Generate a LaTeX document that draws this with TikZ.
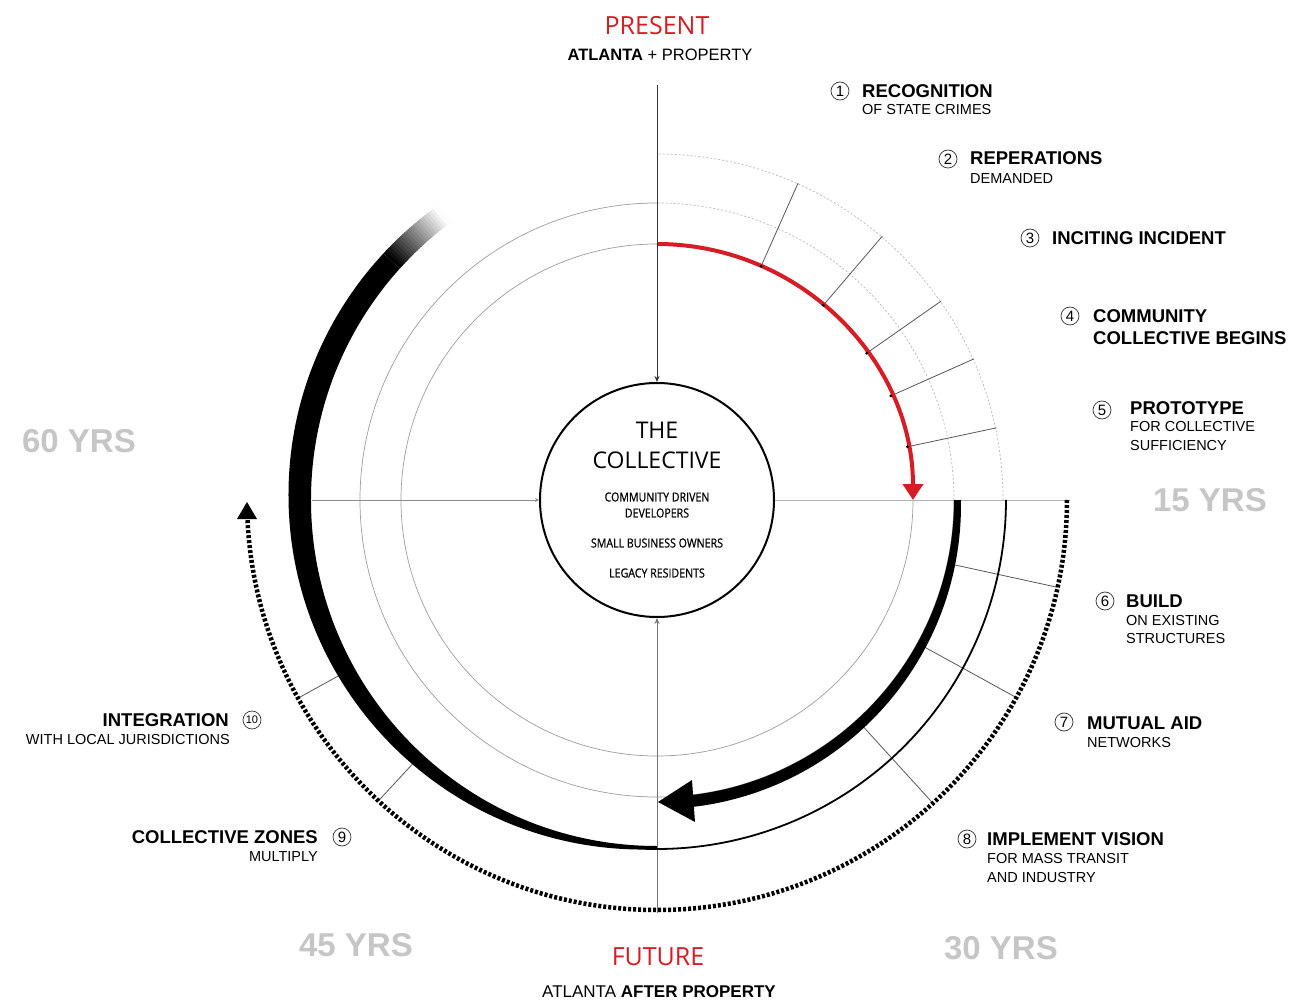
\documentclass[tikz,border=0pt]{standalone}
\usepackage{fontspec}
\setmainfont{Liberation Sans}
\newfontfamily\osans{Open Sans}
\newfontfamily\osansn[FakeStretch=0.85,FakeBold=0.7]{Open Sans}
\usetikzlibrary{arrows.meta}
\definecolor{pred}{RGB}{214,28,36}
\definecolor{yrsgray}{RGB}{198,198,198}
\begin{document}
\begin{tikzpicture}[x=1pt,y=1pt,
  gline/.style={draw=black!38, line width=0.7pt},
  dotg/.style={draw=black!28, line width=0.7pt, dash pattern=on 2pt off 2pt},
  tickl/.style={draw=black!65, line width=0.8pt},
  redline/.style={draw=pred, line width=4pt},
  dotline/.style={draw=black, line width=4.5pt, dash pattern=on 3pt off 2pt},
  ttl/.style={font=\fontsize{18.5}{20}\selectfont\bfseries, inner sep=0pt},
  sub/.style={font=\fontsize{14.5}{16}\selectfont, inner sep=0pt},
  num/.style={circle, draw=black!80, line width=0.7pt, minimum size=18pt, inner sep=0pt, font=\fontsize{15}{15}\selectfont},
  numt/.style={num, font=\fontsize{11}{11}\selectfont},
  yrs/.style={font=\fontsize{33}{36}\selectfont\bfseries, text=yrsgray, inner sep=0pt},
  big/.style={font=\osans\fontsize{25}{28}\selectfont, text=pred, inner sep=0pt},
  sml/.style={font=\osansn\fontsize{12.5}{14}\selectfont, inner sep=0pt},
]
\useasboundingbox (-657,-507) rectangle (645,500);
\fill[white] (-657,-507) rectangle (645,500);

% guide circles
\draw[gline] (90:256pt) arc[start angle=90, end angle=360, radius=256pt];
\draw[gline] (90:297pt) arc[start angle=90, end angle=360, radius=297pt];
\draw[dotg] (0:297pt) arc[start angle=0, end angle=90, radius=297pt];
\draw[dotg] (0:346pt) arc[start angle=0, end angle=90, radius=346pt];

% ticks top-right
\foreach \a in {66,49.5,35,24,12}{
  \draw[tickl] (\a:256pt) -- (\a:347pt);
}
% red arc
\draw[redline, -{Triangle[length=16pt,width=20pt]}] (90:256pt) arc[start angle=90, end angle=0, radius=256pt];
\foreach \a in {66,49.5,35,24,12}{
  \fill (\a:256pt) circle[radius=1.6pt];
}

% cross lines
\node[circle, draw, line width=2pt, fill=white, minimum size=234pt, inner sep=0pt] (coll) at (0,0) {};
\coordinate (ptop) at (0,415);
\coordinate (pbot) at (0,-413);
\coordinate (pleft) at (-345,0);
\coordinate (pright) at (413,0);
\draw[line width=0.8pt, draw=black!80, -{Stealth[length=6pt,width=5pt]}] (ptop) -- (coll.north);
\draw[line width=0.8pt, draw=black!55, -{Stealth[length=6pt,width=5pt]}] (pbot) -- (coll.south);
\draw[line width=0.7pt, draw=black!45, -{Stealth[length=4pt,width=4pt]}] (pleft) -- (coll.west);
\draw[line width=0.7pt, draw=black!30] (coll.east) -- (pright);

% bottom-right ticks
\foreach \a in {-12.3,-28.8,-47.7}{
  \draw[tickl] (\a:303pt) -- (\a:410pt);
}
% bottom-left ticks
\foreach \a in {208.9,227.2}{
  \draw[tickl] (\a:360pt) -- (\a:410pt);
}

% thin black arc
\draw[line width=1.8pt] (0:349pt) arc[start angle=0, end angle=-92, radius=349pt];

% thick black tapered arc (bottom right) with arrow head
\begin{scope}
  \clip (0,0) -- (0:330pt) arc[start angle=0, end angle=-84, radius=330pt] -- cycle;
  \fill[even odd rule] (0,-5) circle[radius=304pt] (0,0) circle[radius=297pt];
\end{scope}
\fill (1,-302) -- (35,-280) -- (38,-322) -- cycle;

% big left band
\begin{scope}
  \clip (0,0) -- (-90:420pt) arc[start angle=-90, end angle=-222, radius=420pt] -- cycle;
  \fill[even odd rule] (-13.9,5.06) circle[radius=354.6pt] (0,0) circle[radius=346pt];
\end{scope}
\foreach \k in {0,...,21}{
  \pgfmathsetmacro{\aa}{138-\k*0.5}
  \pgfmathsetmacro{\ab}{138-\k*0.5-0.8}
  \pgfmathsetmacro{\pc}{100-\k*4.7}
  \begin{scope}
    \clip (0,0) -- (\aa:420pt) arc[start angle=\aa, end angle=\ab, radius=420pt] -- cycle;
    \fill[black!\pc, even odd rule] (-13.9,5.06) circle[radius=354.6pt] (0,0) circle[radius=346pt];
  \end{scope}
}

% dotted outer arc
\draw[dotline] (0:410pt) arc[start angle=0, end angle=-177.3, radius=410pt];
\fill (-410,-2) -- (-420,-19) -- (-400,-19) -- cycle;

% center texts
\node[font=\osans\fontsize{23}{25}\selectfont, inner sep=0pt] (tthe) at (0,70) {THE};
\node[font=\osans\fontsize{23}{25}\selectfont, inner sep=0pt] (tcoll) at (0,40) {COLLECTIVE};
\node[sml] (c1) at (0,3) {COMMUNITY DRIVEN};
\node[sml] (c2) at (0,-13) {DEVELOPERS};
\node[sml] (c3) at (0,-43) {SMALL BUSINESS OWNERS};
\node[sml] (c4) at (0,-73) {LEGACY RESIDENTS};

% top / bottom headings
\node[big] (present) at (0,474) {PRESENT};
\node[font=\fontsize{16.5}{18}\selectfont, inner sep=0pt] (atl1) at (3,445) {\textbf{ATLANTA} + PROPERTY};
\node[big] (future) at (1,-457) {FUTURE};
\node[font=\fontsize{17}{18}\selectfont, inner sep=0pt] (atl2) at (2,-492) {ATLANTA \textbf{AFTER PROPERTY}};

% years
\node[yrs] (y60) at (-578,59) {60 YRS};
\node[yrs] (y15) at (553,0) {15 YRS};
\node[yrs] (y45) at (-301,-445) {45 YRS};
\node[yrs] (y30) at (344,-448) {30 YRS};

% labels right side
\node[num] (n1) at (183,409) {1};
\node[ttl, anchor=west] (l1) at (205,409) {RECOGNITION};
\node[sub, anchor=west] (s1) at (205,390) {OF STATE CRIMES};

\node[num] (n2) at (291,341) {2};
\node[ttl, anchor=west] (l2) at (313,342) {REPERATIONS};
\node[sub, anchor=west] (s2) at (313,321) {DEMANDED};

\node[num] (n3) at (373,262) {3};
\node[ttl, anchor=west] (l3) at (395,262) {INCITING INCIDENT};

\node[num] (n4) at (413,184) {4};
\node[ttl, anchor=west] (l4) at (436,184) {COMMUNITY};
\node[ttl, anchor=west] (l4b) at (436,162) {COLLECTIVE BEGINS};

\node[num] (n5) at (445,90) {5};
\node[ttl, anchor=west] (l5) at (473,92) {PROTOTYPE};
\node[sub, anchor=west] (s5) at (473,73) {FOR COLLECTIVE};
\node[sub, anchor=west] (s5b) at (473,54) {SUFFICIENCY};

\node[num] (n6) at (448,-101) {6};
\node[ttl, anchor=west] (l6) at (469,-101) {BUILD};
\node[sub, anchor=west] (s6) at (469,-121) {ON EXISTING};
\node[sub, anchor=west] (s6b) at (469,-139) {STRUCTURES};

\node[num] (n7) at (407,-222) {7};
\node[ttl, anchor=west] (l7) at (430,-223) {MUTUAL AID};
\node[sub, anchor=west] (s7) at (430,-243) {NETWORKS};

\node[num] (n8) at (310,-339) {8};
\node[ttl, anchor=west] (l8) at (330,-339) {IMPLEMENT VISION};
\node[sub, anchor=west] (s8) at (330,-359) {FOR MASS TRANSIT};
\node[sub, anchor=west] (s8b) at (330,-378) {AND INDUSTRY};

% labels left side
\node[numt] (n10) at (-405,-220) {10};
\node[ttl, anchor=east] (l10) at (-428,-220) {INTEGRATION};
\node[sub, anchor=east] (s10) at (-427,-240) {WITH LOCAL JURISDICTIONS};

\node[num] (n9) at (-315,-337) {9};
\node[ttl, anchor=east] (l9) at (-339,-337) {COLLECTIVE ZONES};
\node[sub, anchor=east] (s9) at (-339,-357) {MULTIPLY};
\end{tikzpicture}
\end{document}
